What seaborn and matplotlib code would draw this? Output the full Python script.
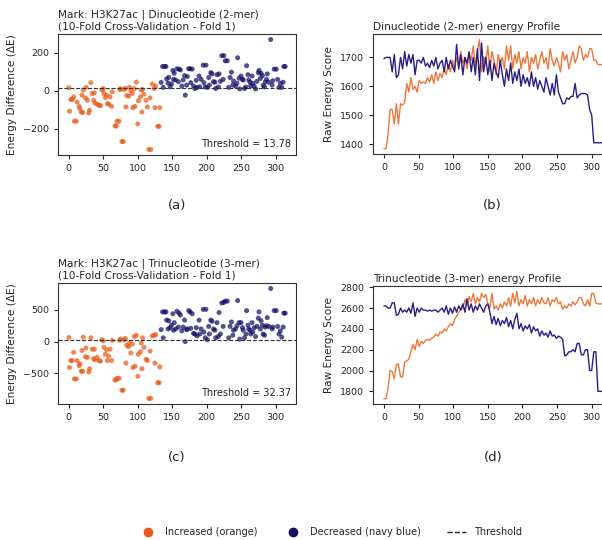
import seaborn as sns
import pandas as pd
import matplotlib.pyplot as plt
import numpy as np
from matplotlib.lines import Line2D

# scatter data: position index, energy difference for 2-mer and 3-mer
positions = [
    0, 1, 3, 5, 7, 8, 11, 12, 15, 16,
    18, 19, 20, 21, 24, 25, 27, 29, 30, 32,
    34, 36, 37, 38, 41, 44, 46, 48, 50, 51,
    53, 55, 56, 58, 60, 62, 63, 67, 69, 70,
    73, 74, 75, 77, 79, 80, 82, 83, 84, 87,
    88, 90, 92, 93, 95, 96, 98, 100, 101, 104,
    105, 106, 107, 109, 112, 114, 116, 118, 119, 121,
    124, 125, 126, 129, 131, 132,
    134, 136, 137, 139, 141, 142, 144, 145, 147, 149,
    151, 152, 153, 155, 157, 159, 160, 162, 164, 166,
    168, 169, 171, 172, 174, 176, 177, 179, 181, 183,
    185, 186, 189, 190, 192, 195, 196, 198, 199, 201,
    203, 204, 206, 208, 210, 212, 213, 215, 217, 218,
    220, 222, 224, 225, 227, 230, 232, 234, 236, 238,
    239, 242, 244, 245, 247, 248, 250, 252, 253, 255,
    257, 258, 260, 261, 263, 264, 266, 267, 269, 271,
    273, 275, 276, 278, 279, 281, 282, 284, 285, 287,
    288, 290, 293, 295, 296, 298, 301, 303, 305, 307,
    309, 311, 312, 314,
]
de_2mer = [
    16, -107, -46, -46, -32, -160, -160, -59, -82, -94,
    -112, -23, -114, 4, -37, 18, -50, -117, -103, 43,
    -14, -50, -11, -64, -71, -76, -78, 4, 12, -14,
    -36, -23, -68, -71, -32, -82, -5, -185, -185, -160,
    -160, 7, 11, -267, -267, 7, 12, -85, -25, -28,
    18, 0, -14, -89, 11, -82, 46, -174, -53, -32,
    4, -112, 7, -18, -50, -85, -309, -37, -309, 36,
    12, -89, 25, -187, -187, -89,
    44, 128, 18, 128, 128, 62, 40, 71, 21, 36,
    107, 60, 92, 57, 116, 48, 114, 110, 25, 57,
    80, -23, 30, 75, 116, 116, 43, 114, 25, 12,
    55, 18, 78, 21, 60, 135, 43, 20, 135, 18,
    70, 30, 96, 89, 48, 45, 12, 85, 20, 89,
    50, 185, 60, 185, 158, 158, 18, 70, 98, 30,
    52, 25, 40, 174, 66, 10, 78, 60, 57, 12,
    20, 132, 85, 57, 45, 25, 78, 40, 25, 10,
    50, 95, 107, 65, 92, 80, 28, 20, 46, 60,
    89, 45, 270, 30, 53, 114, 114, 60, 18, 40,
    18, 45, 128, 128,
]
de_3mer = [
    64, -410, -300, -300, -170, -590, -590, -300, -380, -350,
    -470, -140, -470, 70, -240, -100, -250, -480, -430, 60,
    -120, -270, -120, -290, -250, -300, -310, 30, 10, -90,
    -200, -130, -300, -230, -120, -300, 20, -610, -600, -580,
    -580, 20, 40, -770, -770, 30, 50, -340, -60, -80,
    -20, -180, -40, -410, 80, -390, 100, -550, -200, -160,
    -20, -430, 60, -90, -280, -300, -900, -150, -900, 90,
    100, -340, 110, -650, -650, -400,
    190, 470, 60, 470, 470, 340, 200, 330, 220, 260,
    440, 180, 300, 200, 480, 230, 450, 420, 170, 230,
    340, 0, 190, 200, 490, 470, 210, 440, 130, 120,
    220, 90, 340, 120, 200, 510, 150, 60, 510, 30,
    240, 120, 340, 320, 200, 180, 60, 300, 80, 460,
    120, 610, 240, 620, 640, 640, 60, 240, 310, 100,
    180, 200, 250, 650, 300, 40, 300, 220, 180, 60,
    120, 490, 260, 200, 180, 120, 300, 150, 220, 80,
    240, 370, 470, 200, 330, 260, 120, 100, 230, 250,
    380, 240, 840, 200, 230, 490, 490, 240, 120, 170,
    70, 230, 450, 450,
]
split_at = 133
thr_2mer = 13.78
thr_3mer = 32.37

# energy profiles, one value every 3 positions (0..315)
prof_step = 3
inc_2mer = [
    1385, 1385, 1435, 1520, 1520, 1470, 1540, 1470, 1540, 1535,
    1545, 1610, 1580, 1630, 1590, 1600, 1580, 1620, 1610, 1615,
    1610, 1630, 1615, 1640, 1610, 1650, 1620, 1645, 1630, 1660,
    1640, 1675, 1650, 1690, 1660, 1700, 1670, 1720, 1680, 1700,
    1660, 1710, 1690, 1740, 1670, 1720, 1762, 1650, 1700, 1680,
    1740, 1650, 1720, 1690, 1640, 1710, 1680, 1700, 1660, 1740,
    1690, 1740, 1660, 1710, 1680, 1720, 1660, 1700, 1680, 1720,
    1650, 1700, 1680, 1710, 1660, 1690, 1720, 1680, 1700, 1660,
    1730, 1690, 1670, 1700, 1680, 1650, 1720, 1690, 1710, 1660,
    1690, 1720, 1680, 1700, 1740, 1730, 1690, 1710, 1700, 1730,
    1730, 1690, 1690, 1675, 1675, 1675,
]
dec_2mer = [
    1695, 1700, 1700, 1700, 1650, 1710, 1630, 1640, 1700, 1660,
    1720, 1670, 1710, 1680, 1710, 1640, 1690, 1690, 1680, 1700,
    1670, 1680, 1665, 1690, 1670, 1700, 1660, 1680, 1690, 1650,
    1700, 1660, 1690, 1670, 1650, 1745, 1660, 1710, 1640, 1700,
    1680, 1720, 1650, 1700, 1640, 1730, 1620, 1750, 1650, 1700,
    1640, 1690, 1620, 1680, 1650, 1630, 1690, 1640, 1600, 1660,
    1620, 1680, 1610, 1650, 1620, 1660, 1600, 1640, 1610, 1630,
    1600, 1650, 1600, 1630, 1590, 1620, 1600, 1580, 1630, 1600,
    1570, 1610, 1570, 1640, 1580, 1560, 1540, 1540, 1560, 1555,
    1565, 1565, 1610, 1560, 1570, 1575, 1575, 1575, 1570, 1520,
    1500, 1405, 1405, 1405, 1405, 1405,
]
inc_3mer = [
    1730, 1730, 1830, 2000, 1990, 1920, 2060, 2060, 1940, 1940,
    2080, 2090, 2110, 2180, 2250, 2200, 2300, 2230, 2280, 2260,
    2290, 2300, 2290, 2310, 2320, 2350, 2330, 2370, 2360, 2400,
    2380, 2420, 2450, 2430, 2490, 2520, 2560, 2580, 2600, 2680,
    2620, 2710, 2660, 2740, 2640, 2700, 2660, 2740, 2700, 2730,
    2640, 2600, 2740, 2590, 2620, 2580, 2640, 2600, 2660, 2620,
    2700, 2620, 2740, 2650, 2760, 2620, 2680, 2640, 2720, 2620,
    2680, 2640, 2700, 2620, 2680, 2640, 2700, 2650, 2640, 2700,
    2620, 2680, 2660, 2700, 2640, 2660, 2590, 2620, 2600, 2640,
    2620, 2660, 2630, 2660, 2700, 2700, 2640, 2620, 2680, 2620,
    2740, 2740, 2650, 2640, 2640, 2640,
]
dec_3mer = [
    2620, 2620, 2600, 2600, 2650, 2650, 2530, 2540, 2600, 2560,
    2580, 2560, 2600, 2550, 2650, 2520, 2600, 2560, 2600, 2580,
    2580, 2570, 2580, 2570, 2580, 2580, 2560, 2580, 2600, 2560,
    2620, 2540, 2600, 2550, 2610, 2560, 2620, 2580, 2640, 2560,
    2690, 2580, 2640, 2560, 2620, 2580, 2640, 2600, 2560, 2620,
    2640, 2560, 2450, 2520, 2440, 2500, 2430, 2480, 2450, 2510,
    2420, 2480, 2400, 2490, 2550, 2400, 2450, 2380, 2430, 2400,
    2440, 2360, 2420, 2380, 2400, 2330, 2380, 2340, 2360, 2320,
    2380, 2330, 2340, 2310, 2330, 2320, 2300, 2140, 2150, 2180,
    2180, 2200, 2180, 2260, 2260, 2150, 2150, 2200, 2200, 2000,
    2000, 2180, 2180, 1800, 1800, 1800,
]

orange_pt = "#e85a17"
navy_pt = "#140c66"
orange_ln = "#f0773a"
navy_ln = "#2a1d86"

sns.set_style("ticks")
plt.rcParams["font.family"] = ["DejaVu Sans"]
plt.rcParams["axes.edgecolor"] = "#333333"

fig = plt.figure(figsize=(6.02, 5.40), dpi=100)
W, H = 602.0, 540.0

def ax_at(left, top, right, bottom):
    return fig.add_axes([left / W, 1 - bottom / H, (right - left) / W, (bottom - top) / H])

scat = pd.DataFrame({"pos": positions, "de2": de_2mer, "de3": de_3mer})
scat["group"] = np.where(scat["pos"] < split_at, "inc", "dec")
n_prof = len(inc_2mer)
prof = pd.DataFrame({
    "pos": np.arange(n_prof) * prof_step,
    "inc2": inc_2mer, "dec2": dec_2mer,
    "inc3": inc_3mer, "dec3": dec_3mer,
})

def scatter_panel(ax, col, thr, title):
    sns.scatterplot(data=scat, x="pos", y=col, hue="group",
                    palette={"inc": orange_pt, "dec": navy_pt},
                    s=13, alpha=0.72, edgecolor="none", legend=False, ax=ax)
    ax.axhline(thr, color="#333333", ls="--", lw=0.8)
    ax.text(0.98, 0.05, f"Threshold = {thr:.2f}", transform=ax.transAxes,
            ha="right", va="bottom", fontsize=7)
    ax.set_title(title, loc="left", fontsize=7.6, pad=3)
    ax.set_xlabel("")
    ax.set_ylabel("Energy Difference (ΔE)", fontsize=7.6)
    ax.set_xticks([0, 50, 100, 150, 200, 250, 300])
    ax.tick_params(labelsize=6.8, length=3)

def profile_panel(ax, inc, dec, title):
    sns.lineplot(data=prof, x="pos", y=inc, color=orange_ln, lw=1.0, ax=ax)
    sns.lineplot(data=prof, x="pos", y=dec, color=navy_ln, lw=1.0, ax=ax)
    ax.set_title(title, loc="left", fontsize=7.6, pad=3)
    ax.set_xlabel("")
    ax.set_ylabel("Raw Energy Score", fontsize=7.6)
    ax.set_xticks([0, 50, 100, 150, 200, 250, 300])
    ax.tick_params(labelsize=6.8, length=3)

ax_a = ax_at(58, 34, 296, 155)
scatter_panel(ax_a, "de2", thr_2mer,
              "Mark: H3K27ac | Dinucleotide (2-mer)\n(10-Fold Cross-Validation - Fold 1)")
ax_b = ax_at(373, 34, 613, 154)
profile_panel(ax_b, "inc2", "dec2", "Dinucleotide (2-mer) energy Profile")
ax_b.set_yticks([1400, 1500, 1600, 1700])

ax_c = ax_at(58, 283, 296, 404)
scatter_panel(ax_c, "de3", thr_3mer,
              "Mark: H3K27ac | Trinucleotide (3-mer)\n(10-Fold Cross-Validation - Fold 1)")
ax_d = ax_at(373, 286, 613, 404)
profile_panel(ax_d, "inc3", "dec3", "Trinucleotide (3-mer) energy Profile")
ax_d.set_yticks([1800, 2000, 2200, 2400, 2600, 2800])

for lbl, x, y in [("(a)", 177, 205), ("(b)", 492, 205), ("(c)", 177, 457), ("(d)", 493, 457)]:
    fig.text(x / W, 1 - y / H, lbl, ha="center", va="center", fontsize=9.5, color="#222222")

handles = [
    Line2D([], [], marker="o", ls="", color=orange_pt, markersize=6),
    Line2D([], [], marker="o", ls="", color=navy_pt, markersize=6),
    Line2D([], [], ls="--", color="#222222", lw=1.0),
]
fig.legend(handles, ["Increased (orange)", "Decreased (navy blue)", "Threshold"],
           loc="center", bbox_to_anchor=(330 / W, 1 - 532 / H), ncol=3, frameon=False,
           fontsize=7, columnspacing=2.6, handlelength=2.0, handletextpad=0.8)

fig.savefig("out.png", dpi=100)
